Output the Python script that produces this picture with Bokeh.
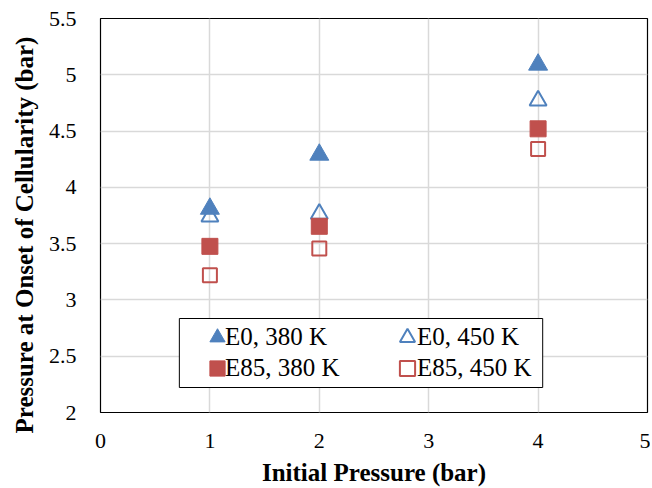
from bokeh.plotting import figure
from bokeh.models import Legend, LegendItem, FixedTicker, Range1d, BoxAnnotation, Title
from bokeh.embed import file_html
from bokeh.resources import INLINE

initial_pressure = [1, 2, 4]
e0_380 = [3.81, 4.29, 5.09]
e0_450 = [3.74, 3.765, 4.77]
e85_380 = [3.476, 3.654, 4.52]
e85_450 = [3.22, 3.457, 4.34]

x_ticks = [0, 1, 2, 3, 4, 5]
y_ticks = [2, 2.5, 3, 3.5, 4, 4.5, 5, 5.5]

BLUE = "#4F81BD"
RED = "#C0504D"
FONT = "Liberation Serif"

p = figure(width=650, height=488, output_backend="svg", toolbar_location=None,
           x_range=Range1d(0, 5), y_range=Range1d(2, 5.5),
           min_border_left=99, min_border_right=3, min_border_top=18, min_border_bottom=76)

p.outline_line_color = "black"
p.outline_line_width = 1.2
p.background_fill_color = "white"
p.border_fill_color = "white"

for ax in (p.xaxis[0], p.yaxis[0]):
    ax.axis_line_color = None
    ax.major_tick_line_color = None
    ax.minor_tick_line_color = None
    ax.major_tick_out = 0
    ax.major_tick_in = 0
    ax.minor_tick_out = 0
    ax.minor_tick_in = 0
    ax.major_label_text_font = FONT
    ax.major_label_text_font_size = "22px"
    ax.major_label_text_color = "black"
    ax.axis_label_text_font = FONT
    ax.axis_label_text_font_style = "bold"
    ax.axis_label_text_color = "black"
    ax.axis_label_text_font_size = "25px"

p.xaxis.ticker = FixedTicker(ticks=x_ticks)
p.yaxis.ticker = FixedTicker(ticks=y_ticks)
p.yaxis.major_label_overrides = {t: (f"{t:g}") for t in y_ticks}
p.xaxis.axis_label = "Initial Pressure (bar)"
p.xaxis.major_label_standoff = 21
p.yaxis.major_label_standoff = 24
p.xaxis.axis_label_standoff = 8

ytitle = Title(text="Pressure at Onset of Cellularity (bar)", align="left",
               offset=-21, standoff=16, text_font=FONT, text_font_size="25px",
               text_font_style="bold", text_color="black")
p.add_layout(ytitle, "left")

p.xgrid.grid_line_color = "#D9D9D9"
p.ygrid.grid_line_color = "#D9D9D9"
p.xgrid.grid_line_width = 1.5
p.ygrid.grid_line_width = 1.5

r1 = p.scatter(initial_pressure, e0_380, marker="triangle", size=19,
               fill_color=BLUE, line_color=BLUE)
r2 = p.scatter(initial_pressure, e0_450, marker="triangle", size=17,
               fill_color=None, line_color=BLUE, line_width=2)
r3 = p.scatter(initial_pressure, e85_380, marker="square", size=16,
               fill_color=RED, line_color=RED)
r4 = p.scatter(initial_pressure, e85_450, marker="square", size=14,
               fill_color=None, line_color=RED, line_width=2)

# legend frame (layout only)
box = BoxAnnotation(left=0.7208, right=4.042, bottom=2.222, top=2.835,
                    fill_color="white", fill_alpha=1.0,
                    line_color="black", line_width=1, line_alpha=1.0)
p.add_layout(box)


def base_legend(items, loc, gw):
    lg = Legend(items=items, location=loc)
    lg.label_text_font = FONT
    lg.label_text_font_size = "25px"
    lg.label_text_color = "black"
    lg.border_line_color = None
    lg.background_fill_alpha = 0
    lg.glyph_width = gw
    lg.glyph_height = 38
    lg.label_standoff = 0
    lg.padding = 0
    lg.margin = 0
    lg.spacing = 0
    return lg


entries = [("E0, 380 K", r1, 98, 125, 56),
           ("E85, 380 K", r3, 98, 125, 25),
           ("E0, 450 K", r2, 288, 317, 56),
           ("E85, 450 K", r4, 288, 317, 25)]
for label, rend, gx, tx, ly in entries:
    # marker only
    p.add_layout(base_legend([LegendItem(label=" ", renderers=[rend])], (gx, ly), 38), "center")
    # text only
    p.add_layout(base_legend([LegendItem(label=label, renderers=[rend])], (tx, ly), 0), "center")

open("out.html", "w").write(file_html(p, INLINE))
